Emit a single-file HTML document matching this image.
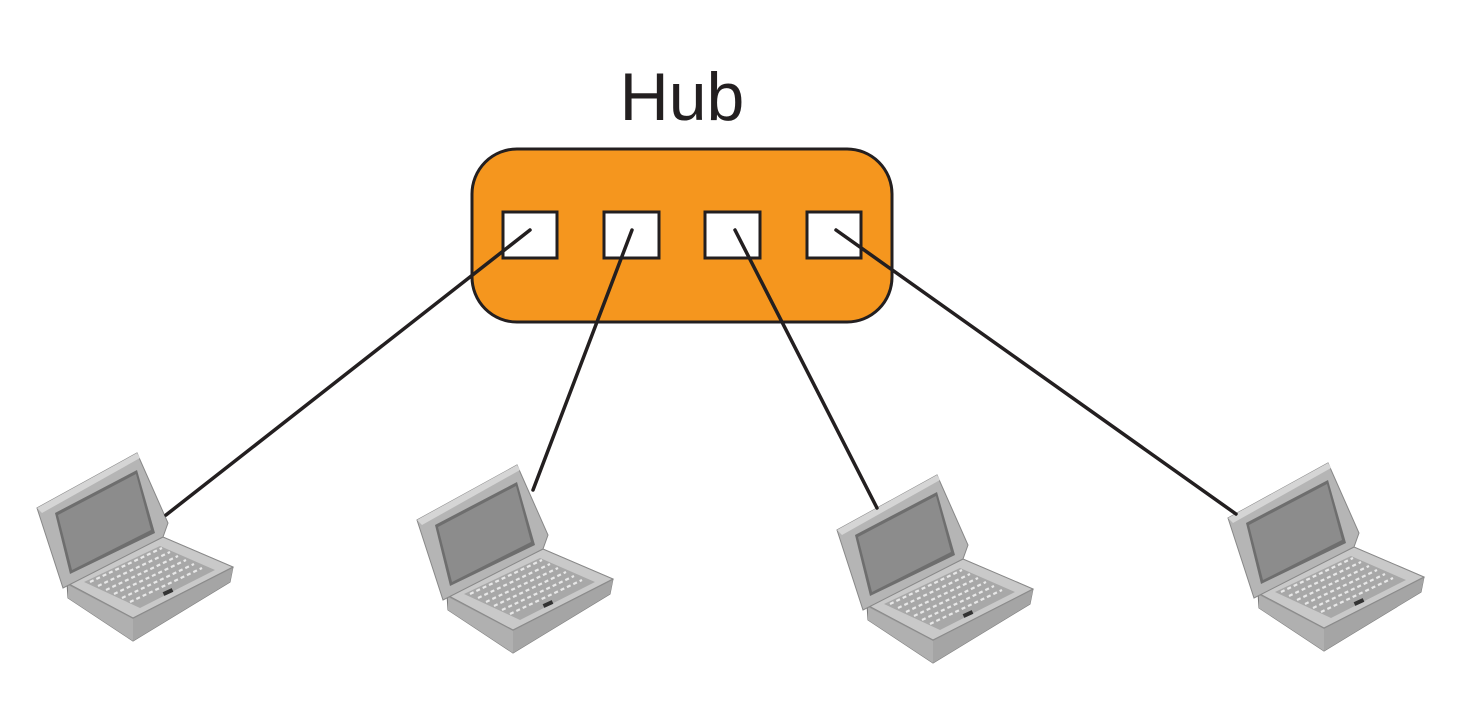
<!DOCTYPE html>
<html><head><style>html,body{margin:0;padding:0;background:#fff;}</style></head>
<body>
<svg width="1459" height="711" viewBox="0 0 1459 711" xmlns="http://www.w3.org/2000/svg">
<defs>
<g id="lap">
 <polygon points="67,583 163,537 233,567 230,582 133,641 68,598" fill="#9a9a9a" stroke="#7a7a7a" stroke-width="1"/>
 <polygon points="67,583 163,537 233,567 133,618" fill="#c9c9c9" stroke="#8a8a8a" stroke-width="1"/>
 <polygon points="68,585 133,619 133,641 68,598" fill="#b0b0b0"/>
 <polygon points="133,619 233,568 230,582 133,641" fill="#a5a5a5"/>
 <polygon points="84,582 160,546 215,570 140,608" fill="#a8a8a8"/>
 <g stroke="#e8e8e8" stroke-width="2.2" stroke-dasharray="4 3">
  <line x1="90" y1="582" x2="162" y2="548"/>
  <line x1="98" y1="586" x2="170" y2="552"/>
  <line x1="106" y1="590" x2="178" y2="556"/>
  <line x1="114" y1="594" x2="186" y2="560"/>
  <line x1="122" y1="598" x2="194" y2="564"/>
  <line x1="130" y1="602" x2="202" y2="568"/>
 </g>
 <rect x="163" y="590" width="10" height="4" fill="#333" transform="rotate(-25 168 592)"/>
 <polygon points="37,508 137,453 168,523 163,537 63,588" fill="#b5b5b5" stroke="#888" stroke-width="1"/>
 <polygon points="37,508 137,453 140,458 42,513" fill="#d5d5d5"/>
 <polygon points="55,513 137,470 155,533 70,574" fill="#6e6e6e"/>
 <polygon points="58,515 136,474 151,530 72,570" fill="#8c8c8c"/>
</g>
</defs>
<text x="682" y="120" font-family="Liberation Sans, sans-serif" font-size="68" text-anchor="middle" fill="#231f20">Hub</text>
<rect x="472" y="149" width="420" height="173" rx="45" fill="#F5961E" stroke="#231f20" stroke-width="3"/>
<g fill="#fff" stroke="#231f20" stroke-width="3">
 <rect x="503" y="212" width="54" height="46"/>
 <rect x="604" y="212" width="55" height="46"/>
 <rect x="705" y="212" width="55" height="46"/>
 <rect x="807" y="212" width="54" height="46"/>
</g>
<use href="#lap"/>
<use href="#lap" transform="translate(380,12)"/>
<use href="#lap" transform="translate(800,22)"/>
<use href="#lap" transform="translate(1191,10)"/>
<g stroke="#231f20" stroke-width="3.5" stroke-linecap="round">
 <line x1="530" y1="230" x2="166" y2="515"/>
 <line x1="632" y1="230" x2="533" y2="490"/>
 <line x1="735" y1="230" x2="877" y2="508"/>
 <line x1="836" y1="230" x2="1236" y2="514"/>
</g>
</svg>
</body></html>
